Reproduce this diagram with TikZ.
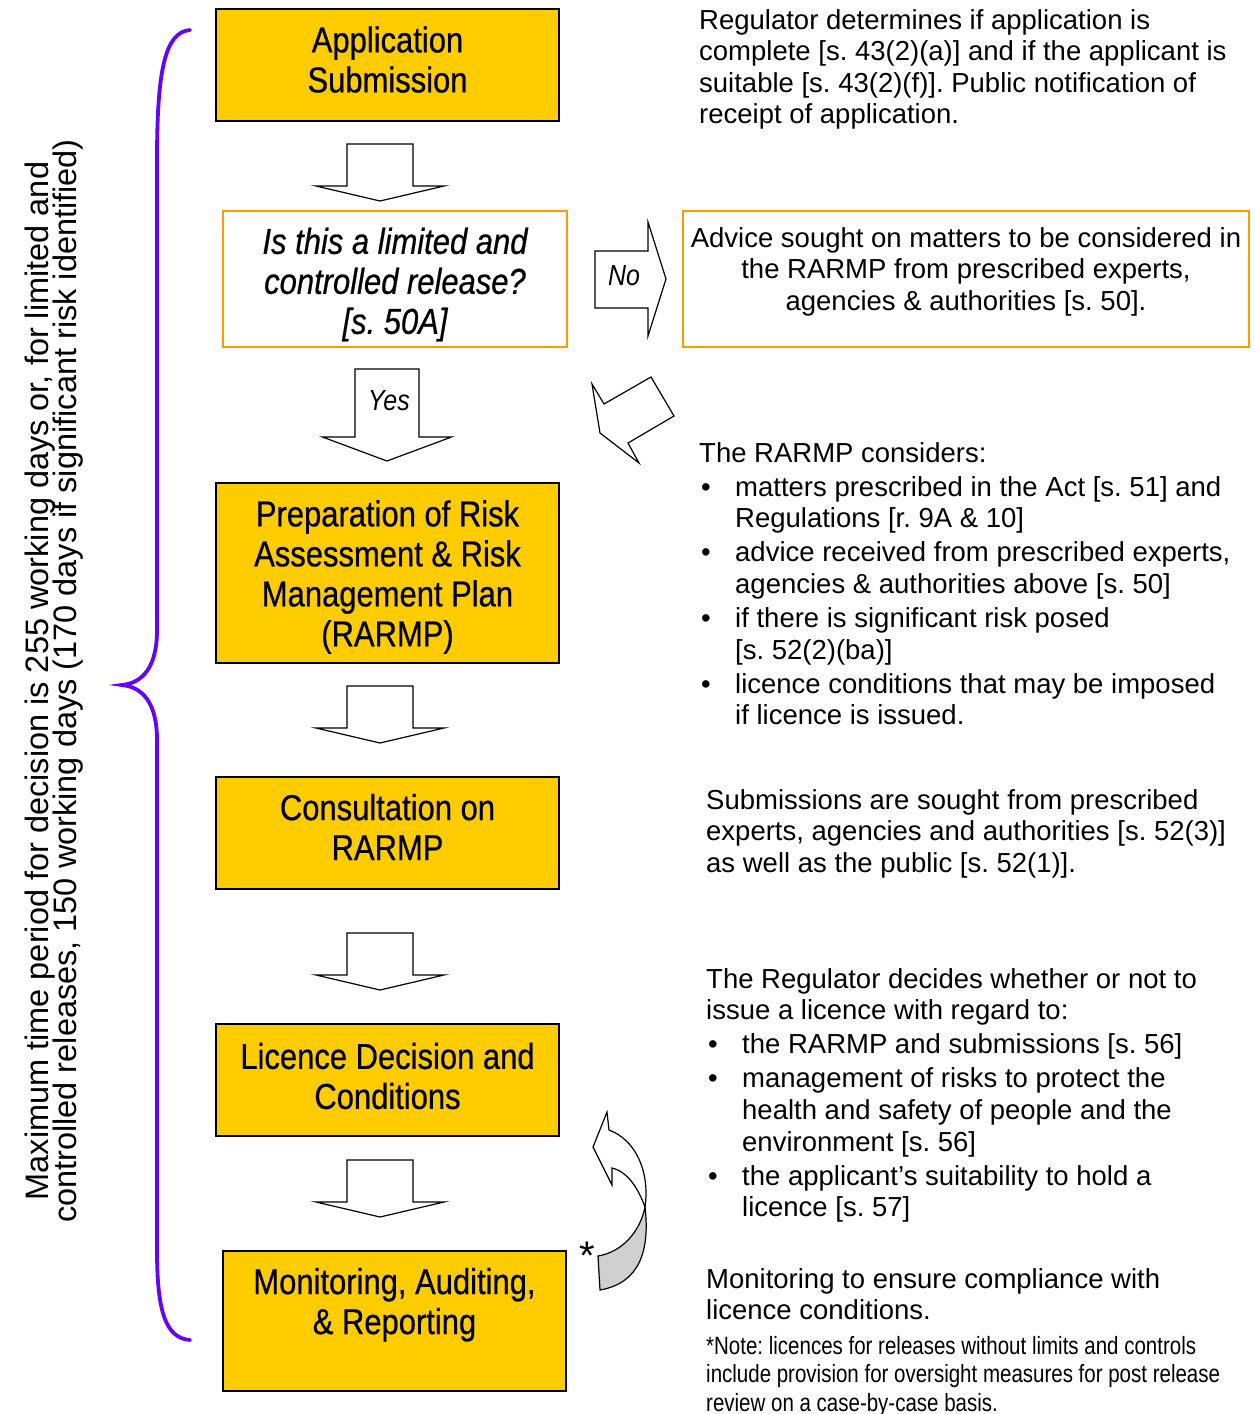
\documentclass[tikz,border=0pt]{standalone}
\usepackage{fontspec}
\setmainfont{Liberation Sans}
\newfontfamily\narrowfont[FakeStretch=0.86, FakeBold=0.6]{Liberation Sans}
\newfontfamily\lblfont[FakeStretch=0.86]{Liberation Sans}
\newfontfamily\notefont[FakeStretch=0.82]{Liberation Sans}
\definecolor{myyellow}{HTML}{FFCC00}
\definecolor{myorange}{HTML}{FF9C00}
\definecolor{mypurple}{HTML}{6600FF}
\definecolor{mygray}{HTML}{D0D0D0}
\newcommand\boxfont{\narrowfont\fontsize{36}{40}\selectfont}
\newcommand\rfont{\fontsize{27.5}{31.6}\selectfont}
\newcommand\sidefont{\fontsize{32.5}{28}\selectfont\lineskiplimit=-20pt\relax}
\newcommand\bitem{\par\hangindent=36pt\hangafter=1\noindent\makebox[36pt][l]{\hspace{2pt}\textbullet}}
\frenchspacing
\begin{document}
\begin{tikzpicture}[x=1pt,y=-1pt,
  ybox/.style={draw=black, fill=myyellow, line width=1.3pt, minimum width=343pt, inner sep=0pt},
  obox/.style={draw=myorange, fill=white, line width=1.8pt, inner sep=0pt},
  btext/.style={inner sep=0pt, align=center, font=\boxfont},
  blockarr/.style={draw=black, fill=white, line width=1.2pt, line join=miter},
  rtext/.style={anchor=base west, inner sep=0pt, font=\rfont},
  arrlabel/.style={font=\lblfont\itshape\fontsize{29}{32}\selectfont, inner sep=0pt}]
\useasboundingbox (0,0) rectangle (1255,1414);

% brace
\draw[mypurple, line width=3.8pt, line cap=round]
  (190,30) .. controls (165,32) and (157,70) .. (157,160) -- (157,630)
  .. controls (157,668) and (142,683) .. (122,685)
  .. controls (142,687) and (157,702) .. (157,740) -- (157,1250)
  .. controls (157,1310) and (165,1338) .. (190,1340);

% side text
\node[rotate=90, align=center, inner sep=0pt, font=\sidefont] (side) at (54,681)
  {Maximum time period for decision is 255 working days or, for limited and\\
   controlled releases, 150 working days (170 days if significant risk identified)};

% main boxes
\node[ybox, minimum height=112pt] (app) at (387.5,65) {};
\node[btext] (apptxt) at (387.5,59.5) {Application\\Submission};
\node[obox, minimum width=344pt, minimum height=136pt] (dec) at (395,279) {};
\node[btext, font=\boxfont\itshape] (dectxt) at (395,284.5)
  {Is this a limited and\\controlled release?\\{}[s. 50A]};
\node[obox, minimum width=566pt, minimum height=136pt] (adv) at (966,279) {};
\node[ybox, minimum height=180pt] (prep) at (387.5,573) {};
\node[btext] (preptxt) at (387.5,577)
  {Preparation of Risk\\Assessment \& Risk\\Management Plan\\(RARMP)};
\node[ybox, minimum height=112pt] (cons) at (387.5,833) {};
\node[btext] (constxt) at (387.5,827) {Consultation on\\RARMP};
\node[ybox, minimum height=112pt] (lic) at (387.5,1080) {};
\node[btext] (lictxt) at (387.5,1076) {Licence Decision and\\Conditions};
\node[ybox, minimum height=140pt] (mon) at (394.5,1321) {};
\node[btext] (montxt) at (394.5,1321) {Monitoring, Auditing,\\\& Reporting\\\mbox{}};

% down block arrows
\newcommand\dnarrow[6]{\draw[blockarr] (#1-#5,#2) -- (#1+#5,#2) -- (#1+#5,#3) -- (#1+#6,#3) -- (#1,#4) -- (#1-#6,#3) -- (#1-#5,#3) -- cycle;}
\dnarrow{380}{144}{186}{201}{33}{64}
\dnarrow{387}{369}{437}{461}{32}{64.5}
\dnarrow{380}{686}{728}{743}{33}{64}
\dnarrow{380}{933}{975}{990}{33}{64}
\dnarrow{380}{1160}{1202}{1217}{33}{64}
\node[arrlabel] (yes) at (389,401) {Yes};

% No arrow
\draw[blockarr] (595,251) -- (648,251) -- (648,222) -- (666,279) -- (648,336) -- (648,308) -- (595,308) -- cycle;
\node[arrlabel] (no) at (624,276) {No};

% diagonal arrow back
\draw[blockarr] (604,404) -- (651,377) -- (674,416) -- (628,443) -- (639,463) -- (600,433) -- (592,384) -- cycle;

% curved arrow
\draw[draw=black, fill=mygray, line width=1.2pt]
  (645,1207) .. controls (650,1250) and (640,1283) .. (600,1290) -- (598,1256)
  .. controls (622,1252) and (640,1232) .. (645,1207) -- cycle;
\draw[draw=black, fill=white, line width=1.2pt, line join=miter]
  (609,1130) .. controls (636,1140) and (650,1172) .. (645,1207)
  .. controls (638,1188) and (628,1172) .. (612,1168)
  -- (612,1185) -- (593,1147) -- (607,1112) -- cycle;
\node[inner sep=0pt, font=\fontsize{40}{40}\selectfont] (star) at (587,1256) {*};

% right texts
\node[rtext] (t1) at (699,29) {\begin{minipage}[t]{560pt}
Regulator determines if application is\\
complete [s. 43(2)(a)] and if the applicant is\\
suitable [s. 43(2)(f)]. Public notification of\\
receipt of application.\end{minipage}};

\node[anchor=base, inner sep=0pt, font=\rfont] (advt) at (966,247)
  {\begin{minipage}[t]{566pt}\centering
  Advice sought on matters to be considered in\\the RARMP from prescribed experts,\\agencies \& authorities [s. 50].\end{minipage}};

\node[rtext] (t2) at (699,462) {\begin{minipage}[t]{560pt}\setlength\parskip{2.5pt}\setlength\parindent{0pt}
The RARMP considers:
\bitem matters prescribed in the Act [s. 51] and\newline Regulations [r. 9A \& 10]
\bitem advice received from prescribed experts,\newline agencies \& authorities above [s. 50]
\bitem if there is significant risk posed\newline [s. 52(2)(ba)]
\bitem licence conditions that may be imposed\newline if licence is issued.\end{minipage}};

\node[rtext] (t3) at (706,809) {\begin{minipage}[t]{560pt}
Submissions are sought from prescribed\\
experts, agencies and authorities [s. 52(3)]\\
as well as the public [s. 52(1)].\end{minipage}};

\node[rtext] (t4) at (706,988) {\begin{minipage}[t]{560pt}\setlength\parskip{2.5pt}\setlength\parindent{0pt}
The Regulator decides whether or not to\newline issue a licence with regard to:
\bitem the RARMP and submissions [s. 56]
\bitem management of risks to protect the\newline health and safety of people and the\newline environment [s. 56]
\bitem the applicant’s suitability to hold a\newline licence [s. 57]\end{minipage}};

\node[rtext] (t5) at (706,1288) {\begin{minipage}[t]{560pt}
Monitoring to ensure compliance with\\
licence conditions.\end{minipage}};

\node[rtext, font=\notefont\fontsize{25}{28.5}\selectfont] (note) at (706,1354) {\begin{minipage}[t]{560pt}
*Note: licences for releases without limits and controls\\
include provision for oversight measures for post release\\
review on a case-by-case basis.\end{minipage}};
\end{tikzpicture}
\end{document}
